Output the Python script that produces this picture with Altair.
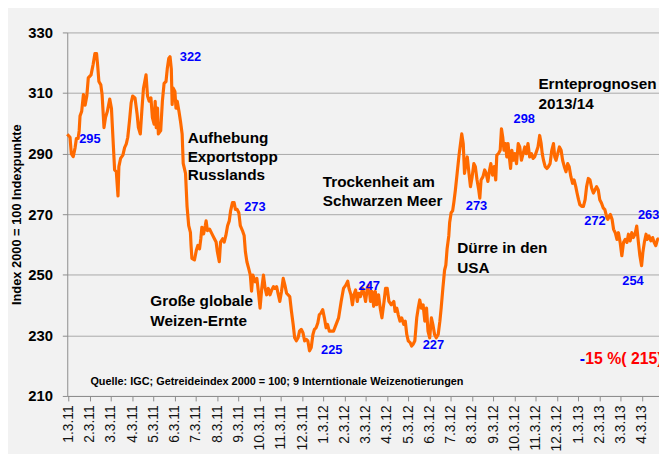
import altair as alt
import pandas as pd

# time in months since 3 Jan 2011 (tick "1.3.11"), index values
months = [
    -0.06, 0.07, 0.13, 0.22, 0.31, 0.37, 0.45, 0.50, 0.54, 0.62,
    0.70, 0.78, 0.86, 0.93, 1.06, 1.16, 1.24, 1.32, 1.37, 1.43,
    1.52, 1.58, 1.67, 1.74, 1.83, 1.94, 2.02, 2.09, 2.17, 2.25,
    2.33, 2.37, 2.45, 2.56, 2.64, 2.72, 2.79, 2.87, 2.95, 3.02,
    3.13, 3.23, 3.29, 3.38, 3.46, 3.53, 3.65, 3.72, 3.80, 3.88,
    3.95, 4.03, 4.08, 4.13, 4.19, 4.23, 4.34, 4.42, 4.50, 4.59,
    4.65, 4.72, 4.78, 4.84, 4.88, 4.93, 5.01, 5.06, 5.12, 5.20,
    5.27, 5.35, 5.40, 5.51, 5.58, 5.66, 5.74, 5.77, 5.81, 5.93,
    6.02, 6.09, 6.17, 6.23, 6.28, 6.36, 6.44, 6.48, 6.54, 6.64,
    6.72, 6.79, 6.87, 6.95, 7.01, 7.10, 7.16, 7.26, 7.33, 7.41,
    7.49, 7.57, 7.63, 7.72, 7.80, 7.86, 7.94, 8.02, 8.09, 8.19,
    8.27, 8.33, 8.40, 8.48, 8.56, 8.62, 8.68, 8.79, 8.87, 8.95,
    9.02, 9.10, 9.18, 9.26, 9.33, 9.41, 9.49, 9.57, 9.65, 9.72,
    9.80, 9.88, 9.95, 10.03, 10.11, 10.19, 10.27, 10.42, 10.50, 10.58,
    10.65, 10.73, 10.81, 10.88, 10.96, 11.04, 11.12, 11.20, 11.27, 11.35,
    11.43, 11.51, 11.58, 11.66, 11.74, 11.81, 11.89, 11.97, 12.05, 12.13,
    12.20, 12.28, 12.48, 12.72, 12.84, 12.95, 13.06, 13.15, 13.21, 13.30,
    13.37, 13.44, 13.52, 13.60, 13.67, 13.75, 13.85, 13.93, 13.99, 14.07,
    14.14, 14.22, 14.30, 14.37, 14.45, 14.51, 14.60, 14.68, 14.76, 14.86,
    14.93, 15.01, 15.09, 15.20, 15.32, 15.38, 15.46, 15.53, 15.61, 15.69,
    15.79, 15.86, 15.93, 16.00, 16.09, 16.16, 16.23, 16.31, 16.40, 16.47,
    16.54, 16.62, 16.70, 16.78, 16.86, 16.93, 17.01, 17.09, 17.16, 17.24,
    17.32, 17.41, 17.49, 17.55, 17.63, 17.71, 17.77, 17.83, 17.91, 17.95,
    18.02, 18.09, 18.15, 18.22, 18.31, 18.40, 18.52, 18.59, 18.65, 18.72,
    18.78, 18.86, 18.93, 19.01, 19.09, 19.16, 19.24, 19.32, 19.37, 19.43,
    19.52, 19.60, 19.67, 19.75, 19.83, 19.89, 19.97, 20.05, 20.12, 20.17,
    20.25, 20.33, 20.39, 20.45, 20.51, 20.58, 20.64, 20.70, 20.76, 20.82,
    20.88, 20.95, 21.02, 21.10, 21.18, 21.25, 21.33, 21.41, 21.49, 21.56,
    21.64, 21.72, 21.80, 21.88, 21.95, 22.03, 22.11, 22.19, 22.26, 22.31,
    22.37, 22.45, 22.53, 22.60, 22.68, 22.76, 22.84, 22.90, 22.96, 23.04,
    23.12, 23.20, 23.27, 23.35, 23.43, 23.51, 23.58, 23.66, 23.74, 23.81,
    23.89, 23.95, 24.02, 24.08, 24.17, 24.25, 24.33, 24.40, 24.48, 24.56,
    24.64, 24.72, 24.79, 24.87, 24.95, 25.02, 25.10, 25.18, 25.26, 25.34,
    25.40, 25.46, 25.52, 25.60, 25.67, 25.75, 25.83, 25.90, 25.98, 26.06,
    26.14, 26.22, 26.30, 26.37, 26.45, 26.53, 26.60, 26.68, 26.76, 26.84,
    26.91, 26.99, 27.05, 27.12, 27.20, 27.26, 27.34, 27.43, 27.51, 27.58,
    27.66, 27.74, 27.81,
]

index_values = [
    296.4, 295.4, 290, 289, 292, 295, 295, 297.5, 302.4, 304,
    309.5, 306, 309, 315, 316, 319.5, 323, 323, 319.2, 313.8,
    312.7, 309.5, 298.6, 301.9, 304, 308, 305, 295.4, 284.6, 284,
    276, 285.7, 288.4, 289.5, 292, 293.2, 295.4, 300.8, 306.8, 309,
    308.4, 303, 298.6, 296.5, 305, 311.6, 316, 309, 307.3, 308.4,
    301.9, 299.7, 307.3, 298.6, 305, 296.5, 297.6, 307.3, 313.2, 313.8,
    318, 321.4, 322, 318, 306.2, 311.6, 310.5, 305, 307.3, 304,
    300.8, 296.5, 286.8, 283.5, 272.7, 266.2, 264, 259.7, 255.4, 254.9,
    258.1, 259.7, 258.6, 261.9, 265.7, 263.5, 266.2, 267.8, 264.6, 265.1,
    264, 263, 261.9, 260.8, 257.6, 254.3, 260.8, 261.9, 260.8, 263,
    266.2, 267.8, 271, 273.8, 273.8, 271.6, 271.6, 270.5, 266.2, 264.6,
    263, 257.6, 254.3, 252.2, 250, 244.6, 249.9, 247.7, 248.8, 243.9,
    239, 245.5, 249.9, 245.5, 243.4, 245.5, 243.4, 245, 246.1, 245.5,
    246.1, 243.4, 241.2, 244.5, 248.8, 246.6, 243.9, 242.8, 237.9, 233.6,
    229.2, 228.2, 229.2, 231.4, 232, 230.9, 228.2, 228.7, 228.2, 224.9,
    226, 230.3, 232, 232.5, 234.1, 236.8, 237.4, 238.5, 235.8, 232.5,
    233.6, 231.4, 231.4, 235.8, 241.2, 245.5, 246.6, 247.9, 245.5, 243.4,
    240.1, 243.4, 245, 241.2, 243.9, 242.8, 245.5, 243.4, 241.2, 245.5,
    246.6, 241.2, 244.5, 239.6, 244.5, 240.1, 243.4, 239, 235.8, 241.2,
    245.5, 245.5, 241.2, 240.1, 241.2, 237.9, 239, 236.8, 234.7, 235.8,
    233.6, 234.7, 230.3, 228.2, 227.6, 226.5, 227.1, 228.2, 235.8, 239,
    241.7, 239, 240.1, 234.7, 239, 231.4, 229.2, 235.8, 233.6, 230.3,
    229.2, 230.3, 234.7, 239, 245.5, 251.5, 253.2, 258.6, 262.9, 267.3,
    270.5, 271.1, 274, 278, 284, 290, 296.5, 293.3, 283.5, 286.7,
    288.9, 283.5, 279.1, 282.4, 286.7, 285.7, 281.3, 278, 275.3, 281.3,
    282.4, 284.6, 283.5, 280.8, 284.6, 286.7, 282.9, 285.7, 281.3, 289.5,
    290, 291.1, 298.2, 295.4, 291.1, 293.3, 288.9, 293.3, 288.9, 285.1,
    291.1, 287.8, 290, 286.7, 293.3, 292.2, 287.8, 290, 292.2, 290,
    293.3, 288.9, 290, 288.4, 288.9, 290.5, 292.2, 296, 293.3, 290,
    287.8, 285.7, 285.1, 285.7, 286.7, 291.1, 293.3, 288.9, 287.8, 290,
    292.2, 291.1, 287.8, 285.7, 284, 286.7, 285.7, 282.4, 280.2, 281.3,
    279.1, 277, 274.8, 273.2, 272.6, 272.6, 274.8, 279.1, 281.8, 281.3,
    278.6, 277, 278, 279.1, 278, 274.8, 273.7, 272.1, 271.5, 269.3,
    268.3, 269.3, 269.9, 268.3, 265, 263.9, 261.7, 263.9, 260.7, 256.3,
    260.7, 261.7, 260.7, 263.4, 261.2, 263.9, 262.3, 263.4, 266.1, 260.7,
    256.3, 253, 257.4, 260.7, 263.4, 261.7, 262.8, 261.2, 262.3, 260.7,
    259.6, 261.7, 262,
]

# y-axis ticks and x-axis month ticks
y_ticks = [210, 230, 250, 270, 290, 310, 330]
x_ticks = list(range(0, 28))

# blue value labels
value_labels = ["295", "322", "273", "225", "247", "227", "273", "298", "272", "263", "254"]
value_label_m = [0.50, 5.24, 8.27, 11.89, 13.66, 16.68, 18.71, 20.96, 24.29, 26.82, 26.08]
value_label_v = [294.9, 321.9, 272.4, 225.0, 246.4, 226.9, 272.8, 301.4, 267.9, 269.8, 248.0]

# black event annotations (one row per text line)
event_lines = ["Aufhebung", "Exportstopp", "Russlands",
               "Trockenheit am", "Schwarzen Meer",
               "Große globale", "Weizen-Ernte",
               "Dürre in den", "USA",
               "Ernteprognosen", "2013/14"]
event_m = [5.61, 5.61, 5.61, 11.97, 11.97, 3.85, 3.85, 18.31, 18.31, 22.13, 22.13]
event_v = [295.2, 289.0, 282.8, 280.6, 274.4, 241.2, 234.7, 258.8, 252.3, 312.8, 306.3]

source_text = ["Quelle: IGC; Getreideindex 2000 = 100; 9 Interntionale Weizenotierungen"]
source_m = [1.03]
source_v = [214.6]

change_minus = ["-"]
change_text = ["15 %( 215)"]
change_m = [24.08]
change_v = [222.1]

FONT = "Liberation Sans"

df = pd.DataFrame({"m": months, "v": index_values})
df_vals = pd.DataFrame({"m": value_label_m, "v": value_label_v, "t": value_labels})
df_events = pd.DataFrame({"m": event_m, "v": event_v, "t": event_lines})
df_source = pd.DataFrame({"m": source_m, "v": source_v, "t": source_text})
df_minus = pd.DataFrame({"m": change_m, "v": change_v, "t": change_minus})
df_change = pd.DataFrame({"m": change_m, "v": change_v, "t": change_text})

x_scale = alt.Scale(domain=[-0.06, 27.81], nice=False, zero=False)
y_scale = alt.Scale(domain=[210, 330], nice=False, zero=False)

label_expr = "(datum.value % 12 + 1) + '.3.' + (11 + floor(datum.value / 12))"

x_axis = alt.Axis(
    values=x_ticks, labelExpr=label_expr, labelAngle=270, labelAlign="right",
    labelBaseline="middle", labelFontSize=14, labelFont=FONT, labelColor="#111111",
    tickSize=5, tickColor="#8c8c8c", domainColor="#8c8c8c", grid=False,
    title=None, labelPadding=4, labelOverlap=False, labelFlush=False)
y_axis = alt.Axis(
    values=y_ticks, grid=True, gridColor="#a9a9a9", gridWidth=1,
    labelFontSize=15, labelFontWeight="bold", labelFont=FONT, labelColor="black",
    tickSize=5, tickColor="#8c8c8c", domainColor="#8c8c8c", labelPadding=10,
    title="Index 2000 = 100 Indexpunkte", titleFont=FONT, titleFontSize=13,
    titleFontWeight="bold", titleColor="black", titleAngle=270,
    titleBaseline="middle", titleAlign="center", titleX=-51, titleY=184)

line = alt.Chart(df).mark_line(color="#ff6a00", strokeWidth=3.2, strokeJoin="round").encode(
    x=alt.X("m:Q", scale=x_scale, axis=x_axis),
    y=alt.Y("v:Q", scale=y_scale, axis=y_axis),
)


def text_layer(data, color, size, weight="bold", font=FONT, dx=0):
    return alt.Chart(data).mark_text(
        align="left", baseline="middle", font=font, fontSize=size,
        fontWeight=weight, color=color, dx=dx,
    ).encode(
        x=alt.X("m:Q", scale=x_scale, axis=x_axis),
        y=alt.Y("v:Q", scale=y_scale, axis=y_axis),
        text="t:N",
    )


vals = text_layer(df_vals, "#0000ff", 13)
events = text_layer(df_events, "black", 15.5)
source = text_layer(df_source, "black", 11, font="Liberation Sans Narrow, Arial Narrow, Liberation Sans")
minus = text_layer(df_minus, "#0000ff", 16)
change = text_layer(df_change, "#ff0000", 16, dx=5.5)

chart = alt.layer(line, vals, events, source, minus, change).properties(
    width=599,
    height=368,
    background="#f2f2f2",
    padding={"left": 60, "top": 22, "right": 0, "bottom": 56},
    autosize=alt.AutoSizeParams(type="none"),
).configure_view(strokeWidth=0)

chart.save("out.html", embed_options={"renderer": "svg", "actions": False})
